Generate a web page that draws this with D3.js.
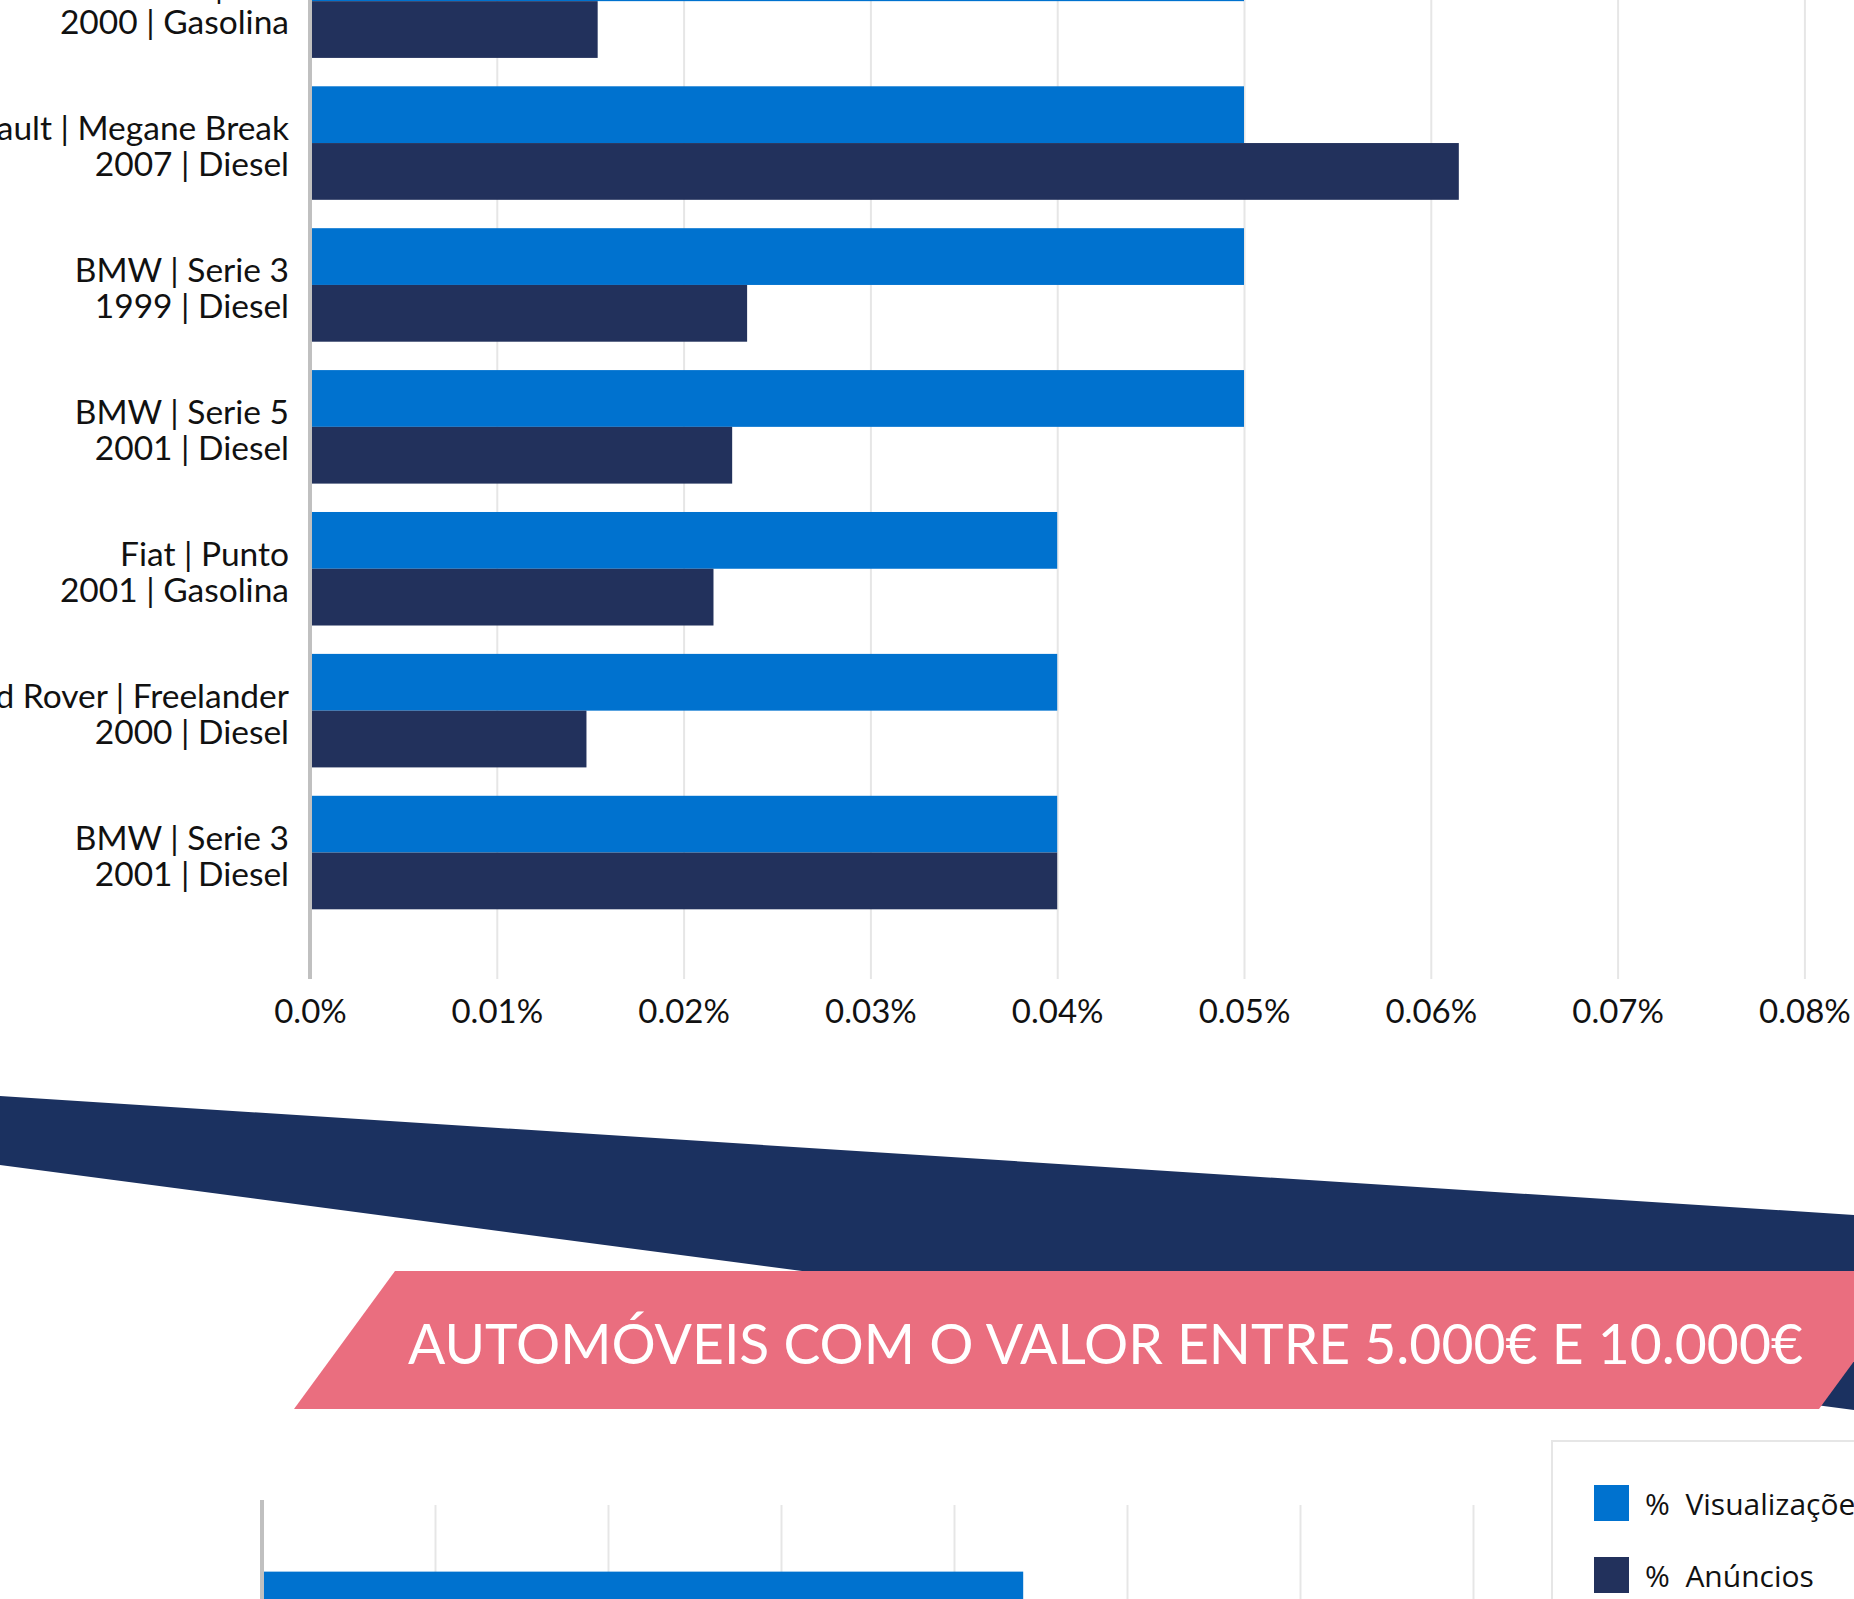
<!DOCTYPE html>
<html>
<head>
<meta charset="utf-8">
<script src="https://cdn.jsdelivr.net/npm/d3@7"></script>
<style>
  body { margin: 0; background: #fff; overflow: hidden; }
  svg { display: block; }
</style>
</head>
<body>
<svg id="drawing_region"></svg>
<script>
// first chart (cut at the top in the picture)
const models  = ["Renault | Clio", "Renault | Megane Break", "BMW | Serie 3", "BMW | Serie 5",
                 "Fiat | Punto", "Land Rover | Freelander", "BMW | Serie 3"];
const details = ["2000 | Gasolina", "2007 | Diesel", "1999 | Diesel", "2001 | Diesel",
                 "2001 | Gasolina", "2000 | Diesel", "2001 | Diesel"];
const views = [0.05, 0.05, 0.05, 0.05, 0.04, 0.04, 0.04];     // % Visualizações
const ads   = [0.0154, 0.0615, 0.0234, 0.0226, 0.0216, 0.0148, 0.04]; // % Anúncios
const tick_values = [0, 0.01, 0.02, 0.03, 0.04, 0.05, 0.06, 0.07, 0.08];

// second chart (only its first bar is in view)
const views2 = [0.044];

const banner_text = "AUTOMÓVEIS COM O VALOR ENTRE 5.000€ E 10.000€";
const legend_labels = ["%  Visualizações", "%  Anúncios"];

const W = 1854, H = 1599;
const colors = { views: '#0072cf', ads: '#22315c' };

const svg = d3.select('#drawing_region')
  .attr('width', W)
  .attr('height', H);

class HBarChart {

  constructor( config, rows ) {
    this.config = config;
    this.rows = rows;
    this.init();
  }

  init() {
    let self = this;
    self.chart = svg.append('g');

    self.x_scale = d3.scaleLinear()
      .domain( [0, 0.08] )
      .range( self.config.x_range );

    self.y_scale = d3.scaleBand()
      .domain( d3.range(self.rows.length) )
      .range( self.config.y_range )
      .paddingInner(0.2)
      .paddingOuter(0.1);

    self.sub_scale = d3.scaleBand()
      .domain( ['views', 'ads'] )
      .range( [0, self.y_scale.bandwidth()] );
  }

  render() {
    let self = this;
    const c = self.config;

    // grid
    const xaxis = d3.axisBottom( self.x_scale )
      .tickValues( tick_values )
      .tickSize( c.grid_bottom - c.grid_top )
      .tickFormat( d => d === 0 ? '0.0%' : d3.format('.2f')(d) + '%' );

    const ax = self.chart.append('g')
      .attr('transform', `translate(0, ${c.grid_top})`)
      .call( xaxis );
    ax.select('.domain').remove();
    ax.selectAll('.tick line')
      .attr('stroke', '#e6e6e6')
      .attr('stroke-width', 2);
    ax.selectAll('.tick text')
      .attr('font-family', 'Lato, sans-serif')
      .attr('font-size', 33)
      .attr('fill', '#111')
      .attr('y', c.label_y - c.grid_top)
      .attr('dy', 0)
      .style('display', c.show_ticks ? null : 'none');

    // bars
    const groups = self.chart.selectAll('.grp')
      .data(self.rows)
      .enter()
      .append('g')
      .attr('class', 'grp')
      .attr('transform', (d, i) => `translate(0, ${self.y_scale(i)})`);

    groups.selectAll('rect')
      .data(d => d.values)
      .enter()
      .append('rect')
      .attr('x', self.x_scale(0))
      .attr('y', d => self.sub_scale(d.key))
      .attr('width', d => self.x_scale(d.value) - self.x_scale(0))
      .attr('height', self.sub_scale.bandwidth())
      .attr('fill', d => colors[d.key]);

    // category labels
    const lab = groups.append('text')
      .attr('text-anchor', 'end')
      .attr('font-family', 'Lato, sans-serif')
      .attr('font-size', 33.5)
      .attr('fill', '#111')
      .attr('x', self.x_scale(0) - 21);
    lab.append('tspan')
      .attr('x', self.x_scale(0) - 21)
      .attr('y', self.y_scale.bandwidth() / 2 - 3)
      .text(d => d.model);
    lab.append('tspan')
      .attr('x', self.x_scale(0) - 21)
      .attr('y', self.y_scale.bandwidth() / 2 + 33)
      .text(d => d.detail);

    // y axis line
    self.chart.append('line')
      .attr('x1', self.x_scale(0)).attr('x2', self.x_scale(0))
      .attr('y1', c.axis_top).attr('y2', c.grid_bottom)
      .attr('stroke', '#c0c0c0')
      .attr('stroke-width', 4);
  }
}

// ---- first chart ----
const rows1 = models.map((m, i) => ({
  model: m,
  detail: details[i],
  values: [ {key: 'views', value: views[i]}, {key: 'ads', value: ads[i]} ]
}));

const chart1 = new HBarChart({
  x_range: [310, 1804.4],
  y_range: [-69.8, 923.5],
  grid_top: -10,
  axis_top: -10,
  grid_bottom: 979,
  label_y: 1023,
  show_ticks: true
}, rows1);
chart1.render();

// ---- ribbon + banner ----
svg.append('path')
  .attr('d', d3.line()([[0, 1096], [W, 1215], [W, 1410], [0, 1165]]) + 'Z')
  .attr('fill', '#1b3160');

svg.append('path')
  .attr('d', d3.line()([[395, 1271], [1920, 1271], [1819, 1409], [294, 1409]]) + 'Z')
  .attr('fill', '#ea6e7f');

svg.append('text')
  .attr('x', 408)
  .attr('y', 1364)
  .attr('font-family', 'Lato, sans-serif')
  .attr('font-size', 56)
  .attr('fill', '#fff')
  .attr('textLength', 1395)
  .attr('lengthAdjust', 'spacingAndGlyphs')
  .text(banner_text);

// ---- second chart ----
const rows2 = views2.map(v => ({
  model: '', detail: '',
  values: [ {key: 'views', value: v} ]
}));

const chart2 = new HBarChart({
  x_range: [262, 1646],
  y_range: [1558, 1558 + 993.3],
  grid_top: 1505,
  axis_top: 1500,
  grid_bottom: 1700,
  label_y: 1760,
  show_ticks: false
}, rows2);
chart2.sub_scale.range([0, 56.8]);
chart2.y_scale.range([1574 - 14.2, 1574 - 14.2 + 141.9]).paddingInner(0).paddingOuter(0.1);
chart2.render();

// ---- legend ----
const legend = svg.append('g');
legend.append('rect')
  .attr('x', 1552).attr('y', 1441)
  .attr('width', 400).attr('height', 300)
  .attr('fill', '#fff')
  .attr('stroke', '#e6e6e6')
  .attr('stroke-width', 2);

const leg_items = legend.selectAll('.item')
  .data(['views', 'ads'])
  .enter()
  .append('g')
  .attr('transform', (d, i) => `translate(1594, ${1485 + i * 72})`);
leg_items.append('rect')
  .attr('width', 35).attr('height', 36)
  .attr('fill', d => colors[d]);
leg_items.append('text')
  .attr('x', 51).attr('y', 30)
  .attr('font-family', '"Open Sans", sans-serif')
  .attr('font-size', 30)
  .attr('fill', '#111')
  .style('white-space', 'pre')
  .text((d, i) => legend_labels[i]);
</script>
</body>
</html>
